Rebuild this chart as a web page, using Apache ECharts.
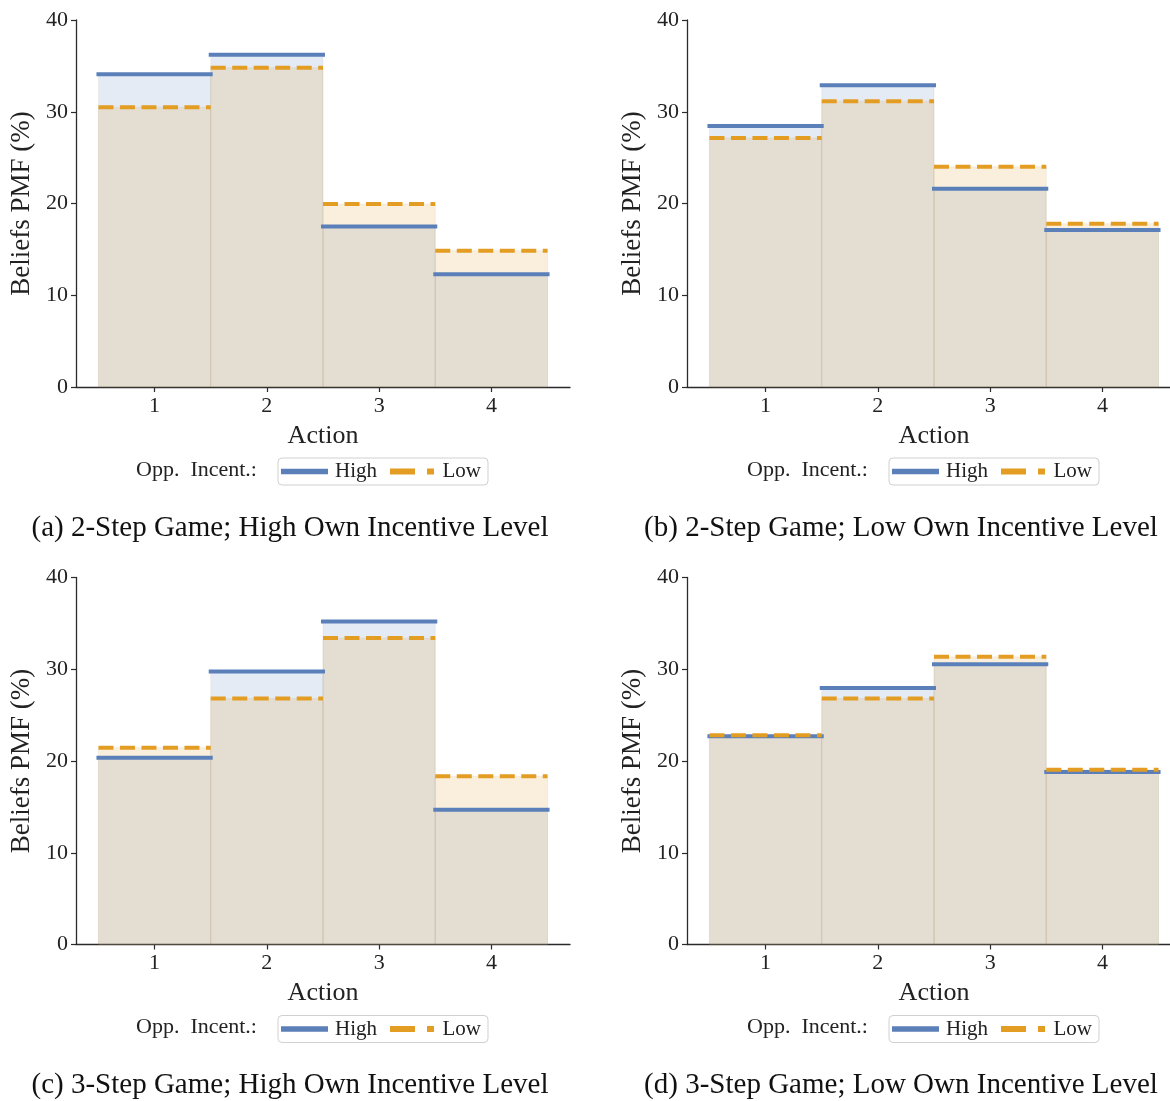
<!DOCTYPE html>
<html>
<head>
<meta charset="utf-8">
<script src="https://cdn.jsdelivr.net/npm/echarts@6/dist/echarts.min.js"></script>
<style>
  html, body { margin: 0; padding: 0; background: #fff; overflow: hidden; }
  #chart { width: 1200px; height: 1101px; }
</style>
</head>
<body>
<div id="chart"></div>
<script>
// ---- data ----
const categories = [1, 2, 3, 4];
const yTicks = [0, 10, 20, 30, 40];

const highA = [34.1, 36.2, 17.5, 12.3];
const lowA  = [30.5, 34.8, 19.95, 14.85];
const highB = [28.45, 32.9, 21.6, 17.1];
const lowB  = [27.15, 31.15, 24.0, 17.8];
const highC = [20.35, 29.75, 35.2, 14.7];
const lowC  = [21.45, 26.8, 33.4, 18.35];
const highD = [22.7, 27.95, 30.55, 18.8];
const lowD  = [22.8, 26.8, 31.35, 19.05];

const captions = [
  '(a) 2-Step Game; High Own Incentive Level',
  '(b) 2-Step Game; Low Own Incentive Level',
  '(c) 3-Step Game; High Own Incentive Level',
  '(d) 3-Step Game; Low Own Incentive Level'
];
const legendTitle = 'Opp.  Incent.:';
const xName = 'Action';
const yName = 'Beliefs PMF (%)';

// ---- style ----
const BLUE = '#5b80b9';
const ORANGE = '#e39d23';
const BLUE_FILL = 'rgba(91,128,185,0.16)';
const ORANGE_FILL = 'rgba(227,157,35,0.16)';
const EDGE = 'rgba(170,150,110,0.10)';
const AXIS = '#2b2b2b';
const FONT = 'Liberation Serif';

const panels = [
  { high: highA, low: lowA, left: 76,  top: 20 },
  { high: highB, low: lowB, left: 687, top: 20 },
  { high: highC, low: lowC, left: 76,  top: 577.5 },
  { high: highD, low: lowD, left: 687, top: 577.5 }
];
const GW = 494, GH = 367;

function fillRender(color) {
  return function (params, api) {
    const x = api.value(0), v = api.value(1);
    const p1 = api.coord([x - 0.5, v]);
    const p2 = api.coord([x + 0.5, 0]);
    return {
      type: 'rect',
      shape: { x: p1[0], y: p1[1], width: p2[0] - p1[0], height: p2[1] - p1[1] },
      style: { fill: color, stroke: EDGE, lineWidth: 1 }
    };
  };
}
function lineRender(color, dashed) {
  return function (params, api) {
    const x = api.value(0), v = api.value(1);
    const p1 = api.coord([x - 0.5, v]);
    const p2 = api.coord([x + 0.5, v]);
    return {
      type: 'line',
      shape: { x1: p1[0], y1: p1[1], x2: p2[0], y2: p2[1] },
      style: {
        stroke: color, lineWidth: 4,
        lineDash: dashed ? [15, 6.5] : null,
        lineCap: dashed ? 'butt' : 'square'
      }
    };
  };
}
const toPts = vals => categories.map((c, i) => [c, vals[i]]);

const grid = [], xAxis = [], yAxis = [], series = [], legend = [], graphic = [];
panels.forEach((p, k) => {
  grid.push({ left: p.left, top: p.top, width: GW, height: GH });
  xAxis.push({
    gridIndex: k, type: 'value', min: 0.3, max: 4.7,
    name: xName, nameLocation: 'middle', nameGap: 36,
    nameTextStyle: { fontFamily: FONT, fontSize: 26, color: '#222' },
    axisLine: { show: true, lineStyle: { color: AXIS, width: 1.3 } },
    axisTick: { show: true, customValues: categories, length: 5, lineStyle: { color: AXIS, width: 1.2 } },
    axisLabel: { customValues: categories, fontFamily: FONT, fontSize: 22, color: '#222', margin: 8 },
    splitLine: { show: false }
  });
  yAxis.push({
    gridIndex: k, type: 'value', min: 0, max: 40, interval: 10,
    name: yName, nameLocation: 'middle', nameGap: 41, nameRotate: 90,
    nameTextStyle: { fontFamily: FONT, fontSize: 27, color: '#222' },
    axisLine: { show: true, lineStyle: { color: AXIS, width: 1.3 } },
    axisTick: { show: true, length: 5, lineStyle: { color: AXIS, width: 1.2 } },
    axisLabel: { customValues: yTicks, fontFamily: FONT, fontSize: 22, color: '#222', margin: 8 },
    splitLine: { show: false }
  });
  series.push({
    name: 'High area', type: 'custom', xAxisIndex: k, yAxisIndex: k,
    renderItem: fillRender(BLUE_FILL), data: toPts(p.high), z: 1,
    itemStyle: { color: BLUE_FILL }
  });
  series.push({
    name: 'Low area', type: 'custom', xAxisIndex: k, yAxisIndex: k,
    renderItem: fillRender(ORANGE_FILL), data: toPts(p.low), z: 2,
    itemStyle: { color: ORANGE_FILL }
  });
  series.push({
    name: 'High', type: 'custom', xAxisIndex: k, yAxisIndex: k,
    renderItem: lineRender(BLUE, false), data: toPts(p.high), z: 3,
    itemStyle: { color: BLUE }
  });
  series.push({
    name: 'Low', type: 'custom', xAxisIndex: k, yAxisIndex: k,
    renderItem: lineRender(ORANGE, true), data: toPts(p.low), z: 4,
    itemStyle: { color: ORANGE }
  });
  const legTop = p.top + GH + 71;
  legend.push({
    left: p.left + 202, top: legTop, orient: 'horizontal',
    selectedMode: false,
    data: [
      { name: 'High', icon: 'path://M0,0H50V6H0Z' },
      { name: 'Low', icon: 'path://M0,0H25V6H0Z M37,0H44V6H37Z' }
    ],
    itemWidth: 47, itemHeight: 6, itemGap: 13,
    padding: [3, 7, 3, 3],
    borderColor: '#d0d0d0', borderWidth: 1, borderRadius: 4,
    textStyle: { fontFamily: FONT, fontSize: 21, color: '#222', padding: [0, 0, 0, 2] }
  });
  graphic.push({
    type: 'text', left: p.left + 60, top: legTop + 1,
    style: { text: legendTitle, fontFamily: FONT, fontSize: 22, fill: '#222' }
  });
  graphic.push({
    type: 'text', x: p.left + 214, y: p.top + GH + 141,
    style: { text: captions[k], fontFamily: FONT, fontSize: 29, fill: '#111',
             textAlign: 'center', textVerticalAlign: 'middle' }
  });
});

const chart = echarts.init(document.getElementById('chart'), null, { renderer: 'canvas' });
chart.setOption({
  animation: false,
  backgroundColor: '#fff',
  grid, xAxis, yAxis, series, legend, graphic
});
</script>
</body>
</html>
